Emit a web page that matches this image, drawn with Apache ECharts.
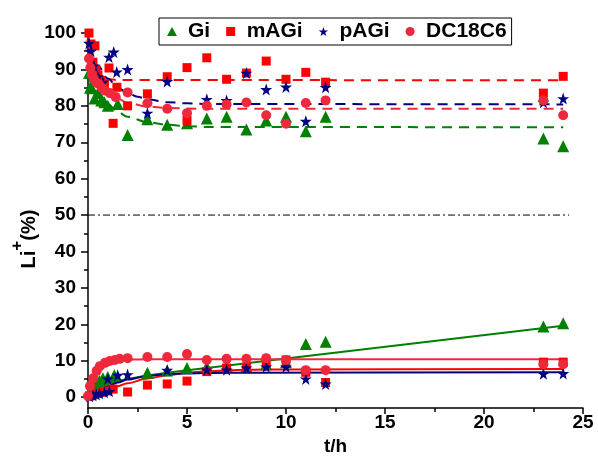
<!DOCTYPE html>
<html><head><meta charset="utf-8">
<script src="https://cdn.jsdelivr.net/npm/echarts@6/dist/echarts.min.js"></script>
<style>html,body{margin:0;padding:0;background:#fff}#c{width:598px;height:460px}</style>
</head><body><div id="c"></div>
<script>
const seriesNames = ['Gi', 'mAGi', 'pAGi', 'DC18C6'];
const yMajorTicks = [0, 10, 20, 30, 40, 50, 60, 70, 80, 90, 100];
const yMinorTicks = [5, 15, 25, 35, 45, 55, 65, 75, 85, 95];

// remaining Li+ (%) : [t/h, value]
const giRemain = [[0.05,89],[0.1,85],[0.2,84.8],[0.33,82],[0.5,83.5],[0.67,81.5],[0.83,81],[1.0,80],[1.5,80.5],[2,72],[3,76.3],[4,74.8],[5,75.2],[6,76.5],[7,77],[8,73.5],[9,76],[10,77],[11,73],[12,77],[23,71],[24,68.9]];
const mAGiRemain = [[0.05,100],[0.15,97],[0.35,96.5],[0.25,92],[0.4,90],[0.5,88.5],[0.67,87],[0.83,86],[1.06,90.4],[1.27,75.2],[1.46,85.1],[2,80],[3,83.3],[4,88],[5,90.5],[5,76],[6,93.2],[7,87.3],[8,89],[9,92.3],[10,87.3],[11,89.2],[12,86.5],[23,83.5],[24,88.1]];
const pAGiRemain = [[0.05,97.2],[0.15,95],[0.3,91],[0.5,88],[0.75,86.5],[1.06,93.4],[1.3,94.8],[1.45,89.3],[2,90],[3,78],[4,86.7],[6,81.8],[7,81.5],[8,89],[9,84.5],[10,85.2],[11,75.8],[12,85.1],[23,81],[24,82]];
const dcRemain = [[0.05,93],[0.12,90.5],[0.2,88.5],[0.3,87.5],[0.4,86.5],[0.55,86],[0.7,85],[0.85,84.2],[1.1,83.5],[1.4,82.4],[2,83.7],[3,80.7],[4,79.2],[5,78],[6,80],[7,80.4],[8,80.9],[9,77.4],[10,75.1],[11,80.8],[12,81.5],[23,81.5],[24,77.4]];

// uptake (%) : [t/h, value]
const giUptake = [[0.08,1.2],[0.25,3.0],[0.42,3.8],[0.58,4.5],[0.75,5.2],[1.0,5.5],[1.33,6.0],[3,6.7],[4,7.3],[5,8.0],[6,8.3],[7,8.6],[8,8.5],[9,9.0],[10,9.6],[11,14.6],[12,15.2],[23,19.4],[24,20.3]];
const mAGiUptake = [[0.08,0.3],[0.25,0.6],[0.5,1.0],[0.75,1.3],[1.0,1.7],[1.27,2.2],[2,1.4],[3,3.3],[4,3.6],[5,4.4],[6,7.0],[7,8.0],[8,8.2],[9,9.4],[10,10.2],[11,6.8],[12,4.0],[23,9.6],[24,9.6]];
const pAGiUptake = [[0.08,0.2],[0.25,0.4],[0.42,0.7],[0.58,1.0],[0.83,1.3],[1.08,1.6],[1.0,5.0],[1.5,6.0],[2,6.2],[4,7.4],[6,7.5],[7,7.5],[8,8.0],[9,8.3],[10,8.3],[11,5.0],[12,3.6],[23,6.4],[24,6.5]];
const dcUptake = [[0.0,0.3],[0.1,3.0],[0.27,5.2],[0.44,7.2],[0.6,8.5],[0.86,9.4],[1.1,9.9],[1.36,10.2],[1.6,10.5],[2,10.7],[3,11],[4,11],[5,11.8],[6,10.2],[7,10.5],[8,10.5],[9,10.7],[10,10.2],[11,7.4],[12,7.4],[23,9.0],[24,9.0]];

// fitted curves
const giRemainFit = [[0,88],[0.5,84],[1,80.5],[1.5,78.3],[2,77],[3,75.5],[4,74.8],[5,74.4],[6,74.2],[24,74.1]];
const mAGiRemainFit = [[0,100],[0.25,93],[0.5,89.5],[0.75,88],[1,87.4],[1.5,87.1],[24,87]];
const pAGiRemainFit = [[0,96],[0.5,91],[1,87.5],[1.5,85],[2,83.5],[2.5,82.5],[3,81.8],[4,81],[5,80.7],[6,80.5],[24,80.4]];
const dcRemainFit = [[0,92],[0.5,87],[1,84],[1.5,82],[2,80.8],[3,79.8],[4,79.4],[6,79.2],[24,79.2]];
const giUptakeFit = [[0,0.5],[0.15,1.0],[0.3,1.7],[0.5,2.4],[0.75,3.1],[1,3.6],[1.5,4.4],[2,5],[3,5.9],[4,6.7],[5,7.4],[6,8.0],[8,9.3],[10,10.6],[24,19.6]];
const mAGiUptakeFit = [[0,0],[0.5,1.1],[1,2.1],[1.5,3],[2,3.8],[3,5.1],[4,6],[5,6.7],[6,7.1],[8,7.5],[10,7.6],[24,7.7]];
const pAGiUptakeFit = [[0,0.3],[0.5,1.8],[1,3],[1.5,4],[2,4.8],[3,5.8],[4,6.3],[5,6.5],[6,6.6],[8,6.7],[24,6.8]];
const dcUptakeFit = [[0,0],[0.1,2.5],[0.25,5],[0.5,7.4],[0.75,8.7],[1,9.5],[1.5,10.1],[2,10.3],[3,10.4],[24,10.4]];
const halfLine = [[0,50],[24.3,50]];

const FONT = '"Liberation Sans", Arial, sans-serif';
const cGreen = '#008000', cRed = '#ff0000', cBlue = '#000080', cPink = '#f0283c';
const TRI = 'path://M50,0 L100,90 L0,90 Z';
const SQR = 'path://M0,0 L100,0 L100,100 L0,100 Z';
const STAR = 'path://M50,0 L61.8,35.3 L98.1,35.3 L68.8,57.1 L79.4,91.5 L50,70.5 L20.6,91.5 L31.2,57.1 L1.9,35.3 L38.2,35.3 Z';

function fit(name, data, color, dashed, smooth) {
  return { name: name, type: 'line', data: data, showSymbol: false,
    smooth: smooth === false ? false : 0.35, smoothMonotone: 'x',
    silent: true, z: 2,
    lineStyle: { color: color, width: 2, type: dashed ? [10, 7] : 'solid' } };
}
function pts(name, data, color, symbol, size) {
  return { name: name, type: 'scatter', data: data, symbol: symbol, symbolSize: size, z: 3,
    itemStyle: { color: color, opacity: 1 } };
}

const chart = echarts.init(document.getElementById('c'), null, { renderer: 'canvas' });
chart.setOption({
  animation: false,
  backgroundColor: '#fff',
  grid: { left: 88, right: 15, top: 29.4, bottom: 52, outerBoundsMode: 'none', containLabel: false },
  legend: {
    data: [
      { name: seriesNames[0], icon: TRI },
      { name: seriesNames[1], icon: SQR },
      { name: seriesNames[2], icon: STAR },
      { name: seriesNames[3], icon: 'circle' }
    ],
    left: 159, top: 18, orient: 'horizontal',
    itemWidth: 22, itemHeight: 9, itemGap: 16,
    padding: [3, 5, 3, 8],
    borderColor: '#000', borderWidth: 1, borderRadius: 0,
    textStyle: { fontFamily: FONT, fontSize: 21, fontWeight: 'bold', color: '#000' },
    selectedMode: false
  },
  xAxis: {
    type: 'value', min: 0, max: 25, interval: 5,
    name: 't/h', nameLocation: 'middle', nameGap: 25,
    nameTextStyle: { fontFamily: FONT, fontSize: 19, fontWeight: 'bold', color: '#000' },
    axisLine: { show: true, onZero: false, lineStyle: { color: '#000', width: 1.5 } },
    axisTick: { show: true, inside: false, length: 6, lineStyle: { color: '#000', width: 1.5 } },
    minorTick: { show: true, splitNumber: 2, length: 4, lineStyle: { color: '#000', width: 1.5 } },
    axisLabel: { fontFamily: FONT, fontSize: 19, fontWeight: 'bold', color: '#000', margin: 5 },
    splitLine: { show: false }
  },
  yAxis: [{
    type: 'value', min: -3, max: 101,
    axisLine: { show: true, onZero: false, lineStyle: { color: '#000', width: 1.5 } },
    axisTick: { show: true, inside: false, length: 7, customValues: yMajorTicks, lineStyle: { color: '#000', width: 1.5 } },
    axisLabel: { customValues: yMajorTicks, fontFamily: FONT, fontSize: 19, fontWeight: 'bold', color: '#000', margin: 12 },
    splitLine: { show: false }
  }, {
    type: 'value', min: -3, max: 101, position: 'left', offset: 0,
    axisLine: { show: false },
    axisTick: { show: true, inside: false, length: 4, customValues: yMinorTicks, lineStyle: { color: '#000', width: 1.5 } },
    axisLabel: { show: false },
    splitLine: { show: false }
  }],
  graphic: [{
    type: 'text', x: 24, y: 239, rotation: Math.PI / 2,
    style: {
      text: '{a|Li}{b|+}{a|(%)}',
      align: 'center', verticalAlign: 'middle',
      rich: {
        a: { fontFamily: FONT, fontSize: 20, fontWeight: 'bold', fill: '#000', lineHeight: 30, verticalAlign: 'bottom' },
        b: { fontFamily: FONT, fontSize: 17, fontWeight: 'bold', fill: '#000', lineHeight: 30, verticalAlign: 'top' }
      }
    }
  }],
  series: [
    { name: 'half', type: 'line', data: halfLine, showSymbol: false, silent: true, z: 1,
      lineStyle: { color: '#000', width: 1, type: [7, 3, 2, 3] } },
    fit('GiFitR', giRemainFit, cGreen, true),
    fit('mAGiFitR', mAGiRemainFit, cRed, true),
    fit('pAGiFitR', pAGiRemainFit, cBlue, true),
    fit('dcFitR', dcRemainFit, cPink, true),
    fit('GiFitU', giUptakeFit, cGreen, false, false),
    fit('mAGiFitU', mAGiUptakeFit, cRed, false),
    fit('pAGiFitU', pAGiUptakeFit, cBlue, false),
    fit('dcFitU', dcUptakeFit, cPink, false),
    pts(seriesNames[0], giRemain.concat(giUptake), cGreen, TRI, 12),
    pts(seriesNames[1], mAGiRemain.concat(mAGiUptake), cRed, SQR, 9),
    pts(seriesNames[2], pAGiRemain.concat(pAGiUptake), cBlue, STAR, 12),
    pts(seriesNames[3], dcRemain.concat(dcUptake), cPink, 'circle', 10)
  ]
});
</script>
</body></html>
